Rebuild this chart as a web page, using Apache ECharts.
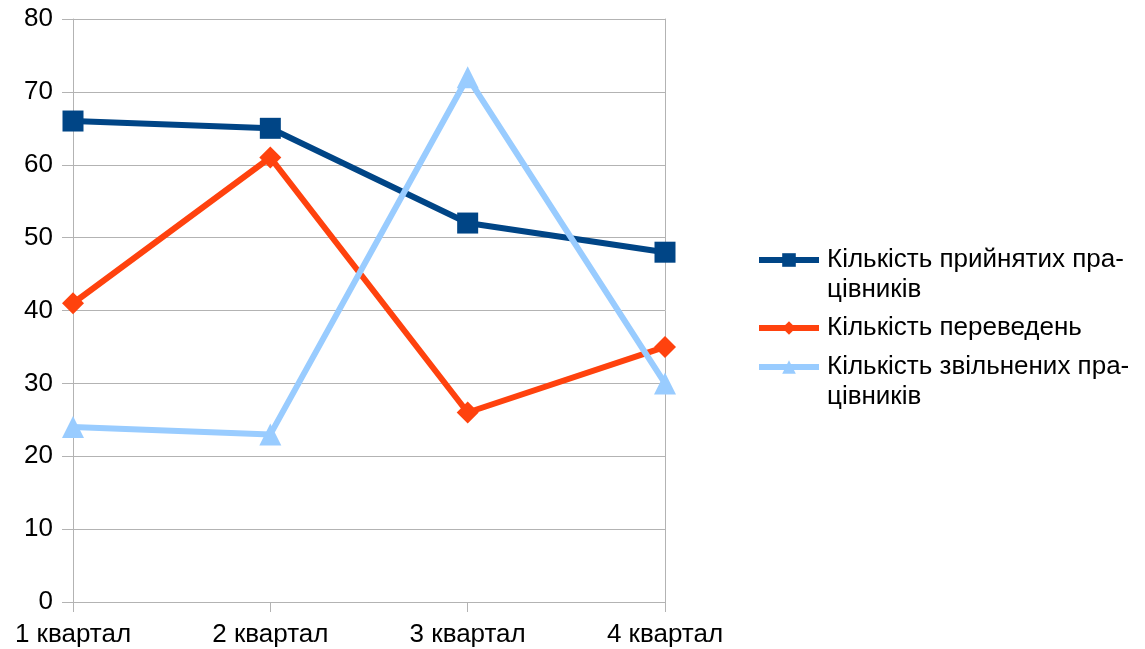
<!DOCTYPE html>
<html>
<head>
<meta charset="utf-8">
<script src="https://cdn.jsdelivr.net/npm/echarts@6/dist/echarts.min.js"></script>
<style>
html,body{margin:0;padding:0;background:#fff;}
#chart{width:1145px;height:649px;}
</style>
</head>
<body>
<div id="chart"></div>
<script>
const categories = ['1 квартал', '2 квартал', '3 квартал', '4 квартал'];
const seriesNames = ['Кількість прийнятих працівників', 'Кількість переведень', 'Кількість звільнених працівників'];
const legendLabels = ['\nКількість прийнятих пра-\nцівників', 'Кількість переведень', '\nКількість звільнених пра-\nцівників'];
const hired = [66, 65, 52, 48];
const transfers = [41, 61, 26, 35];
const dismissed = [24, 23, 72, 30];
const yTicks = [0, 10, 20, 30, 40, 50, 60, 70, 80];

const colors = ['#004586', '#ff420e', '#99ccff'];
const font = '"Liberation Sans", Arial, sans-serif';
const chart = echarts.init(document.getElementById('chart'), null, {renderer: 'canvas'});

function mkLegend(i, top) {
  return {
    orient: 'vertical',
    left: 756,
    top: top,
    padding: 0,
    itemWidth: 60,
    itemHeight: 17,
    formatter: function () { return legendLabels[i]; },
    data: [{name: seriesNames[i]}],
    lineStyle: {width: 6},
    textStyle: {
      fontFamily: font, fontSize: 26, color: '#000', lineHeight: 30,
      padding: [0, 0, 0, 3]
    },
    selectedMode: false
  };
}

const option = {
  backgroundColor: '#fff',
  animation: false,
  color: colors,
  grid: {left: 73, right: 480, top: 19, bottom: 47, containLabel: false},
  legend: [mkLegend(0, 215), mkLegend(1, 313), mkLegend(2, 322)],
  xAxis: {
    type: 'category',
    data: categories,
    boundaryGap: false,
    axisLine: {show: true, lineStyle: {color: '#b3b3b3', width: 1}},
    axisTick: {show: true, length: 10, lineStyle: {color: '#b3b3b3'}},
    axisLabel: {fontFamily: font, fontSize: 26, color: '#000', margin: 20},
    splitLine: {show: false}
  },
  yAxis: [{
    type: 'value',
    min: yTicks[0],
    max: yTicks[yTicks.length - 1],
    interval: 10,
    axisLine: {show: true, lineStyle: {color: '#b3b3b3', width: 1}},
    axisTick: {show: true, length: 11, lineStyle: {color: '#b3b3b3'}},
    axisLabel: {fontFamily: font, fontSize: 26, color: '#000', margin: 20},
    splitLine: {show: true, lineStyle: {color: '#b3b3b3', width: 1}}
  }, {
    type: 'value',
    position: 'right',
    min: yTicks[0],
    max: yTicks[yTicks.length - 1],
    interval: 10,
    axisLine: {show: true, lineStyle: {color: '#b3b3b3', width: 1}},
    axisTick: {show: false},
    axisLabel: {show: false},
    splitLine: {show: false}
  }],
  series: [
    {name: seriesNames[0], type: 'line', data: hired, symbol: 'rect', symbolSize: 21,
     lineStyle: {width: 6, color: colors[0]}, itemStyle: {color: colors[0]}},
    {name: seriesNames[1], type: 'line', data: transfers, symbol: 'diamond', symbolSize: 22,
     lineStyle: {width: 6, color: colors[1]}, itemStyle: {color: colors[1]}},
    {name: seriesNames[2], type: 'line', data: dismissed, symbol: 'triangle', symbolSize: 22,
     lineStyle: {width: 6, color: colors[2]}, itemStyle: {color: colors[2]}}
  ]
};
chart.setOption(option);
</script>
</body>
</html>
